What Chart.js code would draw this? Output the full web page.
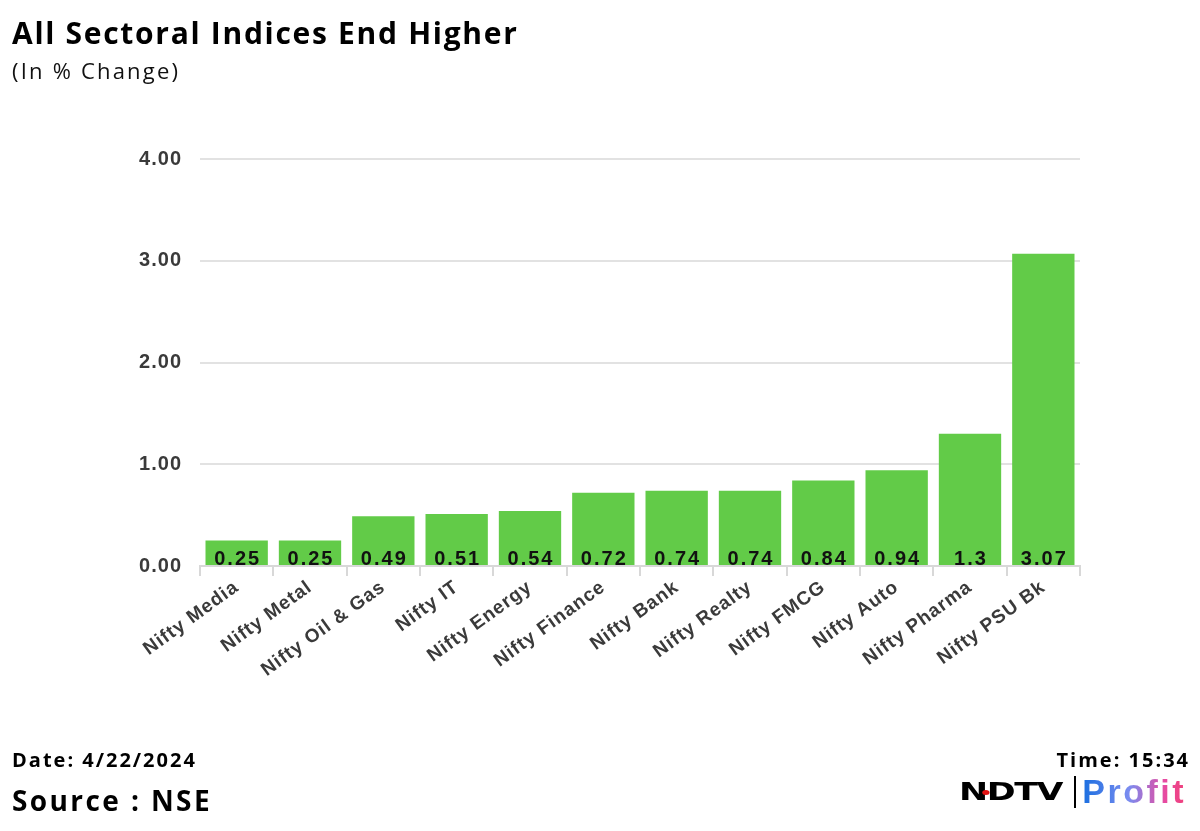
<!DOCTYPE html>
<html>
<head>
<meta charset="utf-8">
<script src="https://cdn.jsdelivr.net/npm/chart.js@4.4.1/dist/chart.umd.min.js"></script>
<style>
    html, body { margin: 0; padding: 0; background: #fff; }
    body { width: 1200px; height: 831px; position: relative; overflow: hidden; font-family: "Open Sans", "Noto Sans", sans-serif; }
    #chart-box { position: absolute; left: 0; top: 0; width: 1200px; height: 831px; }
    .title { position: absolute; left: 12px; top: 12px; font-size: 30px; font-weight: 700; color: #000; letter-spacing: 1.7px; }
    .subtitle { position: absolute; left: 12px; top: 55px; font-size: 22px; color: #111; letter-spacing: 2.2px; }
    .date { position: absolute; left: 12px; top: 746px; font-size: 20px; font-weight: 700; color: #000; letter-spacing: 2px; }
    .source { position: absolute; left: 12px; top: 781px; font-size: 28px; font-weight: 700; color: #000; letter-spacing: 2.4px; }
    .time { position: absolute; right: 10px; top: 746px; font-size: 20px; font-weight: 700; color: #000; letter-spacing: 2px; }
    .logo { position: absolute; right: 14px; top: 772px; display: flex; align-items: center; }
    .ndtv { font-family: "DejaVu Sans", sans-serif; font-weight: 900; font-size: 24px; letter-spacing: -1px; color: #000; transform: scaleX(1.45); transform-origin: right center; margin-right: 6px; position: relative; }
    .ndtv .dot { position: absolute; left: 16px; top: 12px; width: 5px; height: 5px; background: #e01010; border-radius: 50%; }
    .bar { width: 2px; height: 32px; background: #000; margin: 0 6px 0 6px; }
    .profit { font-family: "Liberation Sans", Arial, sans-serif; font-weight: 700; font-size: 34px; letter-spacing: 2.5px; background: linear-gradient(90deg, #1a6fe0, #7a8cf0 45%, #e84aa0 80%, #f0407a); -webkit-background-clip: text; background-clip: text; color: transparent; }
</style>
</head>
<body>
<div id="chart-box"><canvas id="sector-chart"></canvas></div>
<div class="title">All Sectoral Indices End Higher</div>
<div class="subtitle">(In % Change)</div>
<div class="date">Date: 4/22/2024</div>
<div class="source">Source : NSE</div>
<div class="time">Time: 15:34</div>
<div class="logo">
    <span class="ndtv">NDTV<span class="dot"></span></span>
    <span class="bar"></span>
    <span class="profit">Profit</span>
</div>
<script>
// Chart data
const sectors = ['Nifty Media', 'Nifty Metal', 'Nifty Oil & Gas', 'Nifty IT', 'Nifty Energy', 'Nifty Finance',
    'Nifty Bank', 'Nifty Realty', 'Nifty FMCG', 'Nifty Auto', 'Nifty Pharma', 'Nifty PSU Bk'];
const changes = [0.25, 0.25, 0.49, 0.51, 0.54, 0.72, 0.74, 0.74, 0.84, 0.94, 1.3, 3.07];
const yTicks = [0, 1, 2, 3, 4];

// Slightly wider letter spacing, like the stretched source image
const spacing = {
    id: 'spacing',
    beforeDraw(chart) { chart.ctx.letterSpacing = '1px'; },
    afterDraw(chart) { chart.ctx.letterSpacing = '0px'; }
};

// Value labels drawn at the bottom of each bar
const barLabels = {
    id: 'barLabels',
    afterDatasetsDraw(chart) {
        const ctx = chart.ctx;
        const meta = chart.getDatasetMeta(0);
        const yBase = chart.scales.y.getPixelForValue(0);
        ctx.save();
        ctx.font = 'bold 20px "Liberation Sans", Arial, sans-serif';
        ctx.letterSpacing = '2px';
        ctx.fillStyle = '#111';
        ctx.textAlign = 'center';
        ctx.textBaseline = 'alphabetic';
        meta.data.forEach((bar, i) => {
            ctx.fillText(String(changes[i]), bar.x + 1, yBase - 1);
        });
        ctx.restore();
    }
};

new Chart(document.getElementById('sector-chart'), {
    type: 'bar',
    data: {
        labels: sectors,
        datasets: [{
            data: changes,
            backgroundColor: '#62cb48',
            borderWidth: 0,
            barPercentage: 0.85,
            categoryPercentage: 1.0
        }]
    },
    options: {
        responsive: true,
        maintainAspectRatio: false,
        animation: false,
        layout: { padding: { left: 120, right: 120, top: 159, bottom: 115 } },
        plugins: {
            legend: { display: false },
            tooltip: { enabled: false }
        },
        scales: {
            x: {
                grid: { drawOnChartArea: false, drawTicks: true, tickLength: 10, color: '#d8d8d8', lineWidth: 2 },
                border: { color: '#d8d8d8', width: 2 },
                ticks: {
                    color: '#3a3a3a',
                    font: { family: '"Liberation Sans", Arial, sans-serif', size: 19, weight: 'bold' },
                    minRotation: 36,
                    maxRotation: 36,
                    padding: 0
                },
                afterFit(scale) { scale.height = 150; }
            },
            y: {
                min: 0,
                max: 4,
                afterBuildTicks(scale) { scale.ticks = yTicks.map(v => ({ value: v })); },
                grid: { color: '#e2e2e2', lineWidth: 2, drawTicks: false },
                border: { display: false },
                ticks: {
                    color: '#3a3a3a',
                    font: { family: '"Liberation Sans", Arial, sans-serif', size: 20, weight: 'bold' },
                    padding: 18,
                    callback: v => Number(v).toFixed(2)
                },
                afterFit(scale) { scale.width = 80; }
            }
        }
    },
    plugins: [spacing, barLabels]
});
</script>
</body>
</html>
